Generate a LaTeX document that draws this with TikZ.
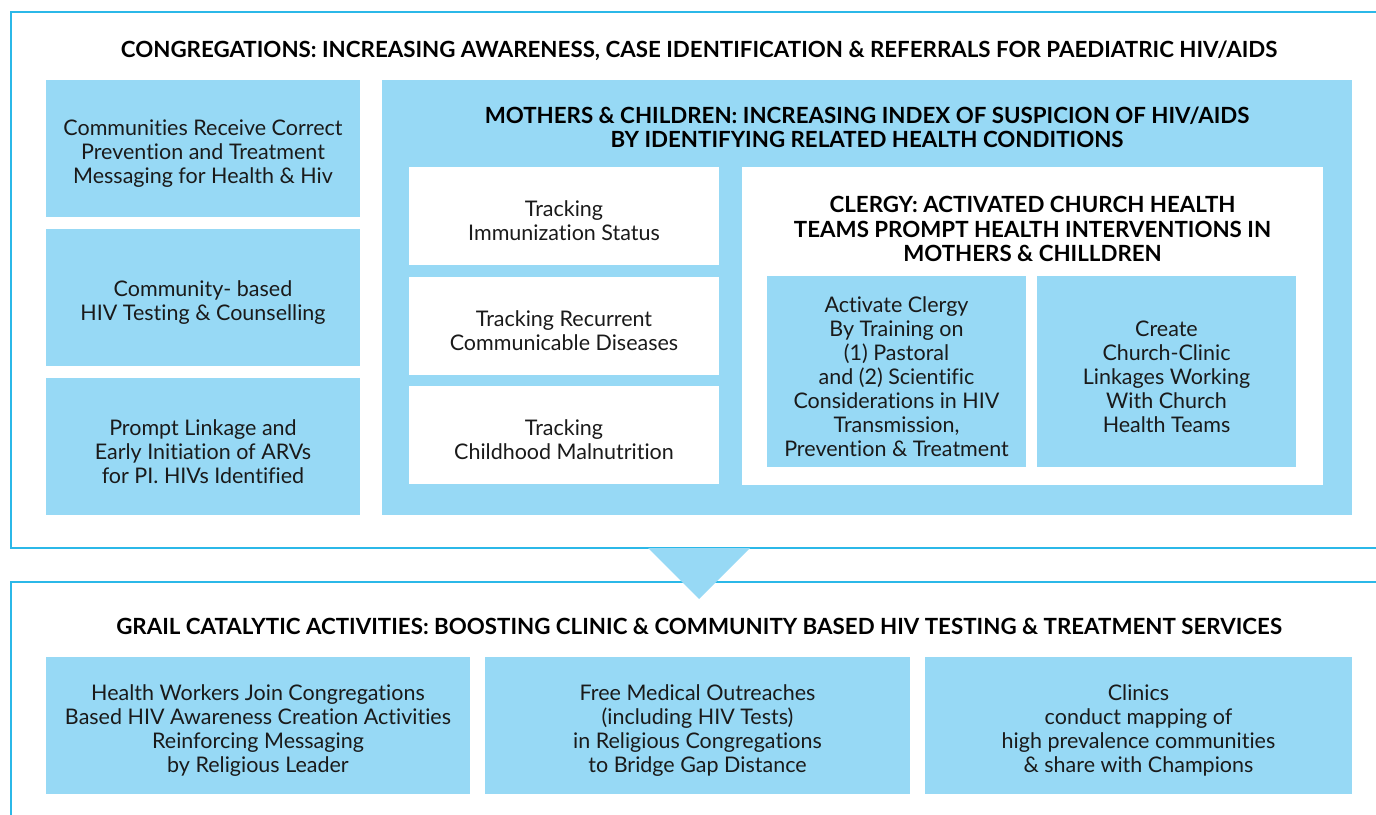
\documentclass[tikz,border=0pt]{standalone}
\usepackage{fontspec}
\setmainfont{Lato}[Ligatures=NoCommon]
\usetikzlibrary{positioning}
\definecolor{skyfill}{HTML}{97D9F5}
\definecolor{frameline}{HTML}{2BB8E8}
\definecolor{inktext}{HTML}{1A1A1A}
\begin{document}
\begin{tikzpicture}[x=1pt,y=-1pt,
    box/.style={fill=skyfill,inner sep=0pt},
    whitebox/.style={box,fill=white},
    boxtext/.style={inner sep=0pt,align=center,text=inktext,yshift=-5pt,
        font=\fontsize{21.5}{24}\selectfont},
    heading/.style={align=center,inner sep=0pt,text=black,
        font=\fontsize{22.3}{24.5}\selectfont\bfseries}]
    \useasboundingbox (0,0) rectangle (1376,814);

    % frames
    \draw[frameline,line width=1.2pt] (1380,12) -- (11,12) -- (11,548) -- (1380,548);
    \draw[frameline,line width=1.2pt] (1380,582) -- (11,582) -- (11,818);
    \fill[skyfill] (648,548) -- (750,548) -- (699,599) -- cycle;

    % congregations
    \node[heading] (congtitle) at (699,51)
    {CONGREGATIONS: INCREASING AWARENESS, CASE IDENTIFICATION \& REFERRALS FOR PAEDIATRIC HIV/AIDS};

    \node[box,minimum width=314,minimum height=137] (messaging) at (203,148.5) {};
    \node[boxtext] at (messaging) {Communities Receive Correct\\Prevention and Treatment\\Messaging for Health \& Hiv};
    \node[box,minimum width=314,minimum height=137] (testing) at (203,297.5) {};
    \node[boxtext] at (testing) {Community- based\\HIV Testing \& Counselling};
    \node[box,minimum width=314,minimum height=137] (linkage) at (203,446.5) {};
    \node[boxtext] at (linkage) {Prompt Linkage and\\Early Initiation of ARVs\\for PI. HIVs Identified};

    % mothers and children
    \node[box,minimum width=970,minimum height=435] (mothers) at (867,297.5) {};
    \node[heading] (mothertitle) at (867,127.5)
    {MOTHERS \& CHILDREN: INCREASING INDEX OF SUSPICION OF HIV/AIDS\\BY IDENTIFYING RELATED HEALTH CONDITIONS};

    \node[whitebox,minimum width=310,minimum height=98] (immunization) at (564,216) {};
    \node[boxtext] at (immunization) {Tracking\\Immunization Status};
    \node[whitebox,minimum width=310,minimum height=98] (diseases) at (564,326) {};
    \node[boxtext] at (diseases) {Tracking Recurrent\\Communicable Diseases};
    \node[whitebox,minimum width=310,minimum height=98] (malnutrition) at (564,435) {};
    \node[boxtext] at (malnutrition) {Tracking\\Childhood Malnutrition};

    % clergy
    \node[whitebox,minimum width=581,minimum height=318] (clergy) at (1032.5,326) {};
    \node[heading] (clergytitle) at (1032.5,229)
    {CLERGY: ACTIVATED CHURCH HEALTH\\TEAMS PROMPT HEALTH INTERVENTIONS IN\\MOTHERS \& CHILLDREN};
    \node[box,minimum width=259,minimum height=191] (training) at (896.5,371.5) {};
    \node[boxtext] at (training) {Activate Clergy\\By Training on\\(1) Pastoral\\and (2) Scientific\\Considerations in HIV\\Transmission,\\Prevention \& Treatment};
    \node[box,minimum width=259,minimum height=191] (churchclinic) at (1166.5,371.5) {};
    \node[boxtext] at (churchclinic) {Create\\Church-Clinic\\Linkages Working\\With Church\\Health Teams};

    % grail
    \node[heading] (grailtitle) at (699,626)
    {GRAIL CATALYTIC ACTIVITIES: BOOSTING CLINIC \& COMMUNITY BASED HIV TESTING \& TREATMENT SERVICES};

    \node[box,minimum width=424,minimum height=137] (healthworkers) at (258,725.5) {};
    \node[boxtext] at (healthworkers) {Health Workers Join Congregations\\Based HIV Awareness Creation Activities\\Reinforcing Messaging\\by Religious Leader};
    \node[box,minimum width=425,minimum height=137] (outreach) at (697.5,725.5) {};
    \node[boxtext] at (outreach) {Free Medical Outreaches\\(including HIV Tests)\\in Religious Congregations\\to Bridge Gap Distance};
    \node[box,minimum width=427,minimum height=137] (mapping) at (1138.5,725.5) {};
    \node[boxtext] at (mapping) {Clinics\\conduct mapping of\\high prevalence communities\\\& share with Champions};
\end{tikzpicture}
\end{document}
